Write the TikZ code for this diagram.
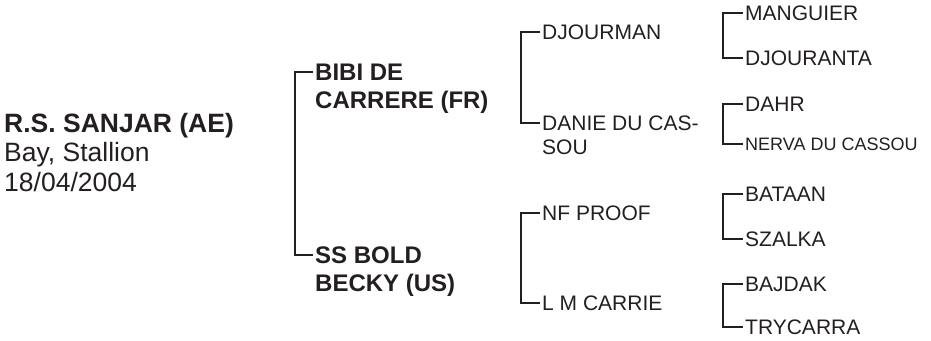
\documentclass[tikz,border=0pt]{standalone}
\usepackage{fontspec}
\setmainfont{Liberation Sans}
\definecolor{ink}{HTML}{231F20}
\begin{document}
\begin{tikzpicture}[x=1pt,y=-1pt,
  br/.style={draw=ink,line width=2.6pt,line join=miter},
  nm/.style={anchor=base west,inner sep=0pt,text=ink,align=left},
  root/.style={nm,font=\fontsize{26.5}{29.5}\selectfont},
  g1/.style={nm,font=\fontsize{24}{28}\selectfont\bfseries},
  g2/.style={nm,font=\fontsize{21}{24}\selectfont},
  g3/.style={nm,font=\fontsize{21}{24}\selectfont}]
\useasboundingbox (0,0) rectangle (931,340);
% root (anchored at the baseline of its last line)
\node[root] (root) at (4,191) {\textbf{R.S. SANJAR (AE)}\\Bay, Stallion\\18/04/2004};
% generation 1
\coordinate (t1a) at (313,72);
\coordinate (t1b) at (313,255);
\node[g1] (sire) at ([shift={(2,36.6)}]t1a) {BIBI DE\\CARRERE (FR)};
\node[g1] (dam) at ([shift={(2,36.6)}]t1b) {SS BOLD\\BECKY (US)};
\draw[br] (t1a) -- ++(-18,0) |- (t1b);
% generation 2
\coordinate (t2a) at (540,32);
\coordinate (t2b) at (540,123);
\coordinate (t2c) at (540,213);
\coordinate (t2d) at (540,303);
\node[g2] (ss) at ([shift={(2,7.5)}]t2a) {DJOURMAN};
\node[g2] (sd) at ([shift={(2,31.5)}]t2b) {DANIE DU CAS-\\SOU};
\node[g2] (ds) at ([shift={(2,7.5)}]t2c) {NF PROOF};
\node[g2] (dd) at ([shift={(2,7.5)}]t2d) {L M CARRIE};
\draw[br] (t2a) -- ++(-19,0) |- (t2b);
\draw[br] (t2c) -- ++(-19,0) |- (t2d);
% generation 3
\coordinate (t3a) at (743,13);
\coordinate (t3b) at (743,58);
\coordinate (t3c) at (743,104);
\coordinate (t3d) at (743,144);
\coordinate (t3e) at (743,194);
\coordinate (t3f) at (743,239);
\coordinate (t3g) at (743,284);
\coordinate (t3h) at (743,327);
\node[g3] (sss) at ([shift={(2,7.5)}]t3a) {MANGUIER};
\node[g3] (ssd) at ([shift={(2,7.5)}]t3b) {DJOURANTA};
\node[g3] (sds) at ([shift={(2,7.5)}]t3c) {DAHR};
\node[g3,font=\fontsize{18}{21}\selectfont] (sdd) at ([shift={(2,6.4)}]t3d) {NERVA DU CASSOU};
\node[g3] (dss) at ([shift={(2,7.5)}]t3e) {BATAAN};
\node[g3] (dsd) at ([shift={(2,7.5)}]t3f) {SZALKA};
\node[g3] (dds) at ([shift={(2,7.5)}]t3g) {BAJDAK};
\node[g3] (ddd) at ([shift={(2,7.5)}]t3h) {TRYCARRA};
\draw[br] (t3a) -- ++(-20,0) |- (t3b);
\draw[br] (t3c) -- ++(-20,0) |- (t3d);
\draw[br] (t3e) -- ++(-20,0) |- (t3f);
\draw[br] (t3g) -- ++(-20,0) |- (t3h);
\end{tikzpicture}
\end{document}
